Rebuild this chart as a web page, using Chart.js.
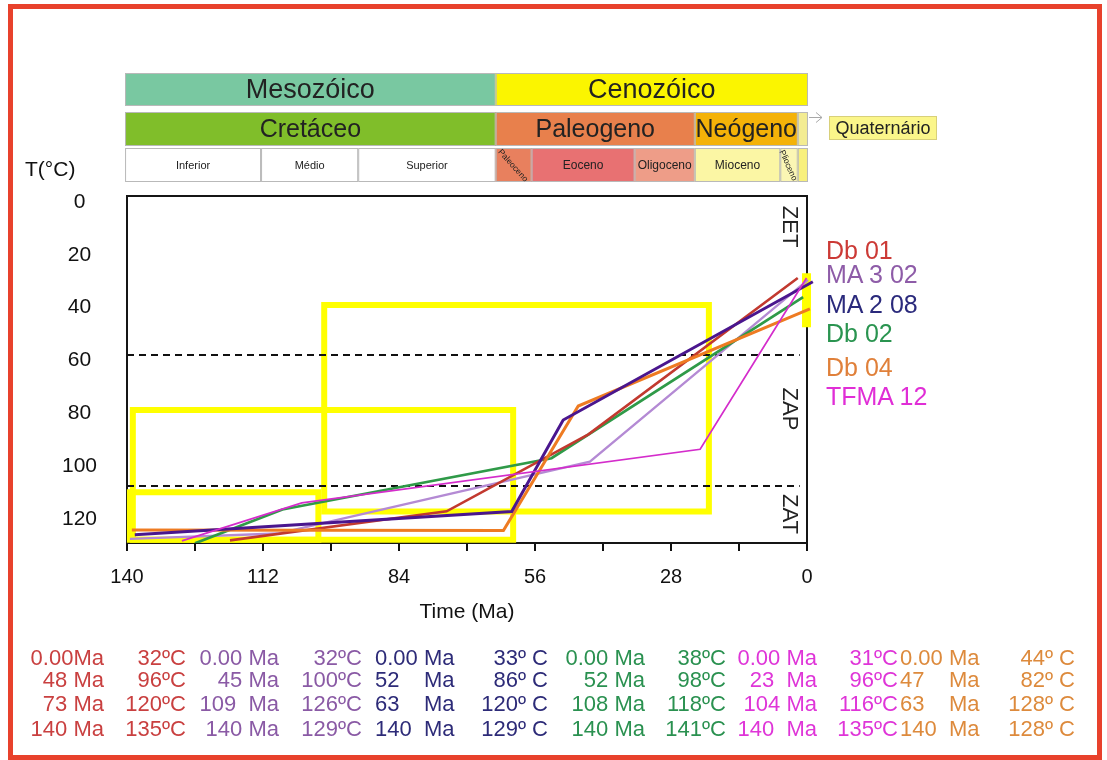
<!DOCTYPE html>
<html lang="pt">
<head>
<meta charset="utf-8">
<title>Historia termica</title>
<script src="https://cdn.jsdelivr.net/npm/chart.js@4.4.1/dist/chart.umd.min.js"></script>
<style>
  body { margin: 0; background: #fff; font-family: "Liberation Sans", Arial, sans-serif; }
  #page { position: relative; width: 1107px; height: 760px; overflow: hidden; background: #fff; }
  #chart { position: absolute; left: 0; top: 0; }
  #frame { position: absolute; left: 8px; top: 4px; width: 1094px; height: 756px; box-sizing: border-box; border: 5px solid #e8412c; pointer-events: none; }
  .txt { position: absolute; white-space: pre; line-height: 1; }
</style>
</head>
<body>
<div id="page">
  <canvas id="chart" width="1107" height="760"></canvas>
  <div id="frame"></div>
  <div class="txt" style="left:25px; top:158px; font-size:21px; color:#111;">T(°C)</div>
  <div id="legend"></div>
  <div id="table"></div>
</div>
<script>
// ---- values ----
const sampleNames = ['Db 01', 'MA 3 02', 'MA 2 08', 'Db 02', 'Db 04', 'TFMA 12'];

// cooling paths as drawn (age in Ma, temperature in °C)
const db01Age = [118.8, 74.2, 45, 1.9];
const db01Temp = [128.2, 117.2, 88, 28.8];
const ma302Age = [139.4, 109, 44.7, -0.2];
const ma302Temp = [127.6, 125.6, 98.4, 29.5];
const ma208Age = [138.4, 60.8, 50.2, -1.2];
const ma208Temp = [126.1, 117.3, 82.6, 30.2];
const db02Age = [126, 108, 52.6, 0.8];
const db02Temp = [129.3, 116.5, 97.1, 36];
const db04Age = [139, 62.5, 47.1, -0.6];
const db04Temp = [124.3, 124.5, 77.3, 40.5];
const tfma12Age = [128.7, 104, 22, 0.1];
const tfma12Temp = [128.4, 114, 93.7, 28.8];

// yellow constraint boxes
const boxOldAge = [138.8, 99.4, 139.4];
const boxYoungAge = [60.5, 20.2, 100.6];
const boxTopTemp = [78.8, 39, 110];
const boxBottomTemp = [128, 117.3, 128];
const presentAge = [0.1, 0.1];
const presentTemp = [27, 47.4];

// annealing zone limits
const zoneLimits = [58, 107.6];
const zoneNames = ['ZET', 'ZAP', 'ZAT'];

// axes
const xTicks = [140, 126, 112, 98, 84, 70, 56, 42, 28, 14, 0];
const xLabelled = [140, 112, 84, 56, 28, 0];
const yTicks = [0, 20, 40, 60, 80, 100, 120];

// time scale
const eraNames = ['Mesozóico', 'Cenozóico'];
const eraEdges = [140.4, 64.1, -0.2];
const periodNames = ['Cretáceo', 'Paleogeno', 'Neógeno', ''];
const periodEdges = [140.4, 64.1, 23.1, 1.9, -0.2];
const epochNames = ['Inferior', 'Médio', 'Superior', 'Paleoceno', 'Eoceno', 'Oligoceno', 'Mioceno', 'Plioceno', ''];
const epochEdges = [140.4, 112.4, 92.4, 64.1, 56.7, 35.5, 23.1, 5.5, 1.9, -0.2];

// table under the plot
const db01AgeText = ['0.00Ma', '48 Ma', '73 Ma', '140 Ma'];
const db01TempText = ['32ºC', '96ºC', '120ºC', '135ºC'];
const ma302AgeText = ['0.00 Ma', '45 Ma', '109  Ma', '140 Ma'];
const ma302TempText = ['32ºC', '100ºC', '126ºC', '129ºC'];
const ma208AgeText = ['0.00 Ma', '52    Ma', '63    Ma', '140  Ma'];
const ma208TempText = ['33º C', '86º C', '120º C', '129º C'];
const db02AgeText = ['0.00 Ma', '52 Ma', '108 Ma', '140 Ma'];
const db02TempText = ['38ºC', '98ºC', '118ºC', '141ºC'];
const tfma12AgeText = ['0.00 Ma', '23  Ma', '104 Ma', '140  Ma'];
const tfma12TempText = ['31ºC', '96ºC', '116ºC', '135ºC'];
const db04AgeText = ['0.00 Ma', '47    Ma', '63    Ma', '140  Ma'];
const db04TempText = ['44º C', '82º C', '128º C', '128º C'];

// ---- styles ----
const FONT = 'Liberation Sans';
const lineColors = ['#c2392f', '#b48ad4', '#4a168e', '#2f9a48', '#ee7b22', '#d42ccb'];
const lineWidths = [2.6, 2.3, 3, 2.8, 3, 1.7];
const textColors = ['#cc3a36', '#8e5ca8', '#2b2a7c', '#2a9450', '#e0803a', '#e02ed6'];

function path(ages, temps) {
    return ages.map((a, i) => ({ x: a, y: temps[i] }));
}

function box(i) {
    const a0 = boxOldAge[i], a1 = boxYoungAge[i];
    const t0 = boxTopTemp[i], t1 = boxBottomTemp[i];
    return [{ x: a0, y: t0 }, { x: a1, y: t0 }, { x: a1, y: t1 }, { x: a0, y: t1 }, { x: a0, y: t0 }];
}

const paths = [
    path(db01Age, db01Temp),
    path(ma302Age, ma302Temp),
    path(ma208Age, ma208Temp),
    path(db02Age, db02Temp),
    path(db04Age, db04Temp),
    path(tfma12Age, tfma12Temp),
];
// drawing priority of each path (lower = on top)
const pathOrder = [3, 5, 1, 4, 2, 0];

let datasets = [];

paths.forEach((p, i) => {
    datasets.push({
        label: sampleNames[i],
        data: p,
        showLine: true,
        borderColor: lineColors[i],
        borderWidth: lineWidths[i],
        pointRadius: 0,
        tension: 0,
        order: pathOrder[i],
        clip: { left: 0, top: 0, right: 8, bottom: 0 },
    });
});

for (let i = 0; i < boxOldAge.length; i++) {
    datasets.push({
        label: 'box' + i,
        data: box(i),
        showLine: true,
        borderColor: '#ffff00',
        borderWidth: 6,
        borderCapStyle: 'square',
        borderJoinStyle: 'miter',
        pointRadius: 0,
        order: 20,
        clip: 4,
    });
}

datasets.push({
    label: 'present',
    data: path(presentAge, presentTemp),
    showLine: true,
    borderColor: '#ffff00',
    borderWidth: 9,
    pointRadius: 0,
    order: 20,
    clip: false,
});

zoneLimits.forEach((t, i) => {
    datasets.push({
        label: 'limit' + i,
        data: [{ x: 140, y: t }, { x: 1.5, y: t }],
        showLine: true,
        borderColor: '#111',
        borderWidth: 2,
        borderDash: [7, 5],
        pointRadius: 0,
        order: 10,
    });
});

// frame of the plot + zone names
const plotFrame = {
    id: 'plotFrame',
    beforeDatasetsDraw(chart) {
        const { ctx, chartArea: a } = chart;
        ctx.save();
        ctx.strokeStyle = '#151515';
        ctx.lineWidth = 2;
        ctx.strokeRect(a.left, a.top, a.right - a.left, a.bottom - a.top);
        ctx.restore();
    },
    afterDatasetsDraw(chart) {
        const { ctx } = chart;
        const xs = chart.scales.x, ys = chart.scales.y;
        const zoneAt = [9.3, 78.4, 118.2];
        ctx.save();
        ctx.fillStyle = '#222';
        ctx.font = '22px "' + FONT + '"';
        ctx.textAlign = 'center';
        ctx.textBaseline = 'middle';
        zoneNames.forEach((z, i) => {
            ctx.save();
            ctx.translate(xs.getPixelForValue(3.5), ys.getPixelForValue(zoneAt[i]));
            ctx.rotate(Math.PI / 2);
            ctx.fillText(z, 0, 1);
            ctx.restore();
        });
        ctx.restore();
    }
};

function drawRow(ctx, xs, edges, names, fills, y0, y1, sizes, rotations) {
    for (let i = 0; i < names.length; i++) {
        const xa = xs.getPixelForValue(edges[i]);
        const xb = xs.getPixelForValue(edges[i + 1]);
        ctx.fillStyle = fills[i];
        ctx.fillRect(xa, y0, xb - xa, y1 - y0);
        ctx.strokeStyle = '#b9b9b9';
        ctx.lineWidth = 1;
        ctx.strokeRect(xa + 0.5, y0 + 0.5, xb - xa - 1, y1 - y0 - 1);
        if (!names[i]) continue;
        ctx.save();
        ctx.translate((xa + xb) / 2, (y0 + y1) / 2);
        ctx.rotate((rotations[i] || 0) * Math.PI / 180);
        ctx.fillStyle = '#222';
        ctx.font = sizes[i] + 'px "' + FONT + '"';
        ctx.textAlign = 'center';
        ctx.textBaseline = 'middle';
        ctx.fillText(names[i], 0, 1);
        ctx.restore();
    }
}

const timeScale = {
    id: 'timeScale',
    afterDraw(chart) {
        const ctx = chart.ctx;
        const xs = chart.scales.x;
        ctx.save();
        drawRow(ctx, xs, eraEdges, eraNames, ['#79c8a1', '#fbf500'], 73, 106, [27, 27], []);
        drawRow(ctx, xs, periodEdges, periodNames, ['#80be2a', '#e8804c', '#f4b208', '#f3ec92'], 112, 146, [25, 25, 25, 0], []);
        drawRow(ctx, xs, epochEdges, epochNames,
            ['#ffffff', '#ffffff', '#ffffff', '#e8805e', '#e87172', '#ee9d88', '#fbf6a4', '#fbf6b4', '#f8f07c'],
            148, 182, [11, 11, 11, 8.5, 12, 12, 12, 8.5, 0], [0, 0, 0, 48, 0, 0, 0, 66, 0]);

        // pointer to the Quaternário label
        ctx.strokeStyle = '#a8a8a8';
        ctx.lineWidth = 1;
        ctx.beginPath();
        ctx.moveTo(809, 117.5);
        ctx.lineTo(822, 117.5);
        ctx.moveTo(816, 112.5);
        ctx.lineTo(822, 117.5);
        ctx.lineTo(816, 122.5);
        ctx.stroke();

        ctx.fillStyle = '#fbf68a';
        ctx.fillRect(829, 116, 108, 24);
        ctx.strokeStyle = '#d8d07a';
        ctx.strokeRect(829.5, 116.5, 107, 23);
        ctx.fillStyle = '#222';
        ctx.font = '18px "' + FONT + '"';
        ctx.textAlign = 'center';
        ctx.textBaseline = 'middle';
        ctx.fillText('Quaternário', 883, 129);
        ctx.restore();
    }
};

new Chart(document.getElementById('chart'), {
    type: 'scatter',
    data: { datasets: datasets },
    options: {
        responsive: false,
        animation: false,
        devicePixelRatio: 1,
        layout: { padding: { left: 0, right: 300, top: 196, bottom: 117 } },
        plugins: { legend: { display: false }, tooltip: { enabled: false } },
        scales: {
            x: {
                type: 'linear',
                reverse: true,
                min: 0,
                max: 140,
                afterBuildTicks: (s) => { s.ticks = xTicks.map(v => ({ value: v })); },
                afterFit: (s) => { s.height = 100; },
                grid: { display: true, drawOnChartArea: false, drawTicks: true, tickLength: 8, color: '#111', lineWidth: 2 },
                border: { display: false },
                ticks: {
                    autoSkip: false,
                    maxRotation: 0,
                    padding: 14,
                    color: '#111',
                    font: { family: FONT, size: 20 },
                    callback: (v) => (xLabelled.includes(v) ? String(v) : ''),
                },
                title: {
                    display: true,
                    text: 'Time (Ma)',
                    color: '#111',
                    font: { family: FONT, size: 21 },
                    padding: { top: 0, bottom: 18 },
                },
            },
            y: {
                type: 'linear',
                reverse: true,
                min: -2.3,
                max: 129.2,
                afterBuildTicks: (s) => { s.ticks = yTicks.map(v => ({ value: v })); },
                afterFit: (s) => { s.width = 127; },
                grid: { display: false, drawTicks: false },
                border: { display: false },
                ticks: { crossAlign: 'center', padding: 30, color: '#111', font: { family: FONT, size: 21 } },
            },
        },
    },
    plugins: [plotFrame, timeScale],
});

// legend on the right
const legendTops = [250, 274, 304, 333, 367, 396];
let legendBox = document.querySelector('#legend');
sampleNames.forEach((name, i) => {
    let d = document.createElement('div');
    d.className = 'txt';
    d.style.left = '826px';
    d.style.top = (legendTops[i] - 12.2) + 'px';
    d.style.fontSize = '25px';
    d.style.color = textColors[i];
    d.textContent = name;
    legendBox.append(d);
});

// table of sample values
const tableAges = [db01AgeText, ma302AgeText, ma208AgeText, db02AgeText, tfma12AgeText, db04AgeText];
const tableTemps = [db01TempText, ma302TempText, ma208TempText, db02TempText, tfma12TempText, db04TempText];
const tableColors = ['#c94040', '#8a5aa5', '#2d2b78', '#2a9150', '#df35d8', '#dd8a3c'];
const colAgeX = [104, 279, 375, 645, 817, 900];
const colAgeLeft = [false, false, true, false, false, true];
const colTempX = [186, 362, 548, 726, 898, 1075];
const rowCentres = [658, 680, 704, 729];
let tableBox = document.querySelector('#table');

function cell(text, x, alignLeft, y, color) {
    let d = document.createElement('div');
    d.className = 'txt';
    d.style.fontSize = '22px';
    d.style.color = color;
    d.style.top = (y - 10.8) + 'px';
    if (alignLeft) {
        d.style.left = x + 'px';
    } else {
        d.style.left = (x - 200) + 'px';
        d.style.width = '200px';
        d.style.textAlign = 'right';
    }
    d.textContent = text;
    tableBox.append(d);
}

for (let g = 0; g < tableAges.length; g++) {
    for (let r = 0; r < rowCentres.length; r++) {
        cell(tableAges[g][r], colAgeX[g], colAgeLeft[g], rowCentres[r], tableColors[g]);
        cell(tableTemps[g][r], colTempX[g], false, rowCentres[r], tableColors[g]);
    }
}
</script>
</body>
</html>
